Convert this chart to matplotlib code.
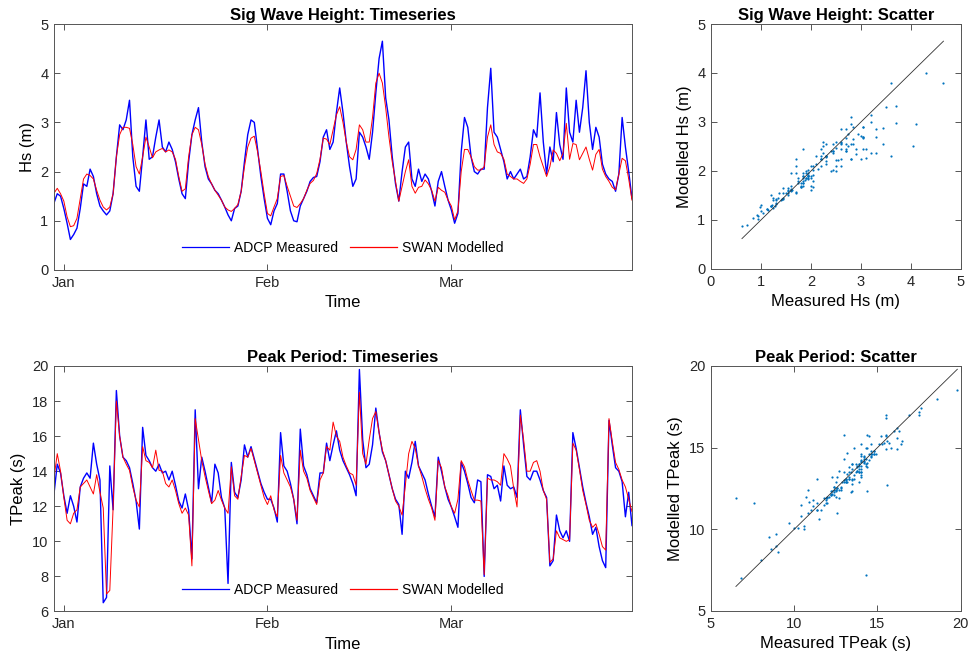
import numpy as np
import matplotlib.pyplot as plt

plt.rcParams['font.family'] = ['Liberation Sans', 'DejaVu Sans']

# 12-hourly samples, time in days from 1 Jan
t_start = -1.5
t_step = 0.5

# significant wave height (m)
hs_adcp = [1.36, 1.55, 1.50, 1.25, 0.95, 0.62, 0.72, 0.85, 1.25, 1.75,
           1.70, 2.05, 1.90, 1.55, 1.30, 1.20, 1.12, 1.20, 1.55, 2.30,
           2.95, 2.85, 3.05, 3.45, 2.30, 1.70, 1.60, 2.30, 3.05, 2.25,
           2.30, 2.70, 3.05, 2.50, 2.40, 2.60, 2.45, 2.20, 1.85, 1.55,
           1.45, 2.20, 2.75, 3.05, 3.30, 2.60, 2.10, 1.85, 1.75, 1.62,
           1.55, 1.42, 1.28, 1.12, 1.00, 1.25, 1.30, 1.60, 2.20, 2.75,
           3.05, 3.00, 2.45, 1.90, 1.45, 1.05, 0.92, 1.20, 1.35, 1.95,
           1.95, 1.60, 1.20, 1.00, 0.98, 1.30, 1.45, 1.60, 1.80, 1.88,
           1.90, 2.20, 2.70, 2.85, 2.45, 2.60, 3.20, 3.70, 3.20, 2.60,
           2.10, 1.70, 1.85, 2.80, 2.70, 2.50, 2.25, 2.80, 3.60, 4.30,
           4.65, 3.50, 3.05, 2.30, 1.75, 1.40, 2.00, 2.50, 2.60, 1.85,
           1.70, 2.05, 1.80, 1.95, 1.85, 1.60, 1.30, 1.80, 2.00, 1.70,
           1.42, 1.22, 0.95, 1.15, 2.40, 3.10, 2.90, 2.30, 2.00, 1.95,
           2.05, 2.05, 3.30, 4.10, 2.80, 2.70, 2.45, 2.20, 1.85, 2.00,
           1.85, 1.95, 2.05, 1.85, 1.90, 2.30, 2.85, 2.70, 3.60, 2.60,
           1.95, 2.50, 2.20, 3.20, 2.55, 2.25, 3.70, 2.80, 2.60, 3.45,
           2.80, 3.30, 4.05, 3.00, 2.45, 2.90, 2.70, 2.15, 1.95, 1.85,
           1.80, 1.60, 1.95, 3.10, 2.50, 2.00, 1.45]
hs_swan = [1.56, 1.66, 1.55, 1.40, 1.08, 0.88, 0.90, 1.05, 1.45, 1.85,
           1.95, 1.92, 1.85, 1.62, 1.42, 1.28, 1.22, 1.28, 1.55, 2.30,
           2.75, 2.90, 2.90, 2.88, 2.55, 2.10, 1.95, 2.30, 2.70, 2.50,
           2.28, 2.40, 2.44, 2.47, 2.40, 2.44, 2.40, 2.25, 1.90, 1.60,
           1.65, 2.30, 2.75, 2.90, 2.85, 2.55, 2.15, 1.90, 1.75, 1.62,
           1.52, 1.42, 1.28, 1.22, 1.19, 1.25, 1.33, 1.60, 2.10, 2.50,
           2.68, 2.72, 2.40, 2.00, 1.55, 1.15, 1.10, 1.28, 1.45, 1.90,
           1.92, 1.70, 1.50, 1.30, 1.27, 1.35, 1.45, 1.62, 1.76, 1.82,
           1.96, 2.25, 2.68, 2.66, 2.55, 2.85, 3.15, 3.32, 3.00, 2.60,
           2.30, 2.24, 2.45, 2.95, 2.85, 2.60, 2.60, 3.10, 3.80, 4.00,
           3.80, 3.30, 2.70, 2.20, 1.80, 1.40, 1.70, 2.00, 2.24, 1.70,
           1.56, 1.68, 1.70, 1.83, 1.75, 1.62, 1.40, 1.68, 1.62, 1.58,
           1.42, 1.30, 1.02, 1.20, 2.00, 2.45, 2.45, 2.30, 2.10, 2.03,
           2.03, 2.10, 2.70, 2.95, 2.55, 2.40, 2.37, 2.25, 1.95, 1.90,
           1.85, 1.85, 1.80, 1.76, 1.85, 2.15, 2.55, 2.55, 2.30, 2.10,
           1.90, 2.10, 2.44, 2.37, 2.22, 2.37, 2.98, 2.25, 2.57, 2.55,
           2.24, 2.37, 2.50, 2.25, 2.03, 2.35, 2.45, 2.05, 1.90, 1.80,
           1.68, 1.63, 1.95, 2.27, 2.22, 1.85, 1.42]

# peak period (s)
tp_adcp = [12.7, 14.4, 13.9, 12.6, 11.6, 12.6, 12.0, 11.1, 13.1, 13.6,
           13.9, 13.6, 15.6, 14.4, 13.5, 6.5, 6.8, 14.3, 11.8, 18.6,
           16.0, 14.8, 14.6, 14.2, 13.3, 12.3, 10.7, 16.5, 14.9, 14.6,
           14.2, 14.0, 14.4, 13.9, 14.0, 13.5, 14.0, 13.2, 12.3, 11.9,
           12.7, 11.8, 9.0, 17.5, 13.0, 14.8, 14.0, 13.1, 12.2, 14.4,
           13.9, 12.5, 11.9, 7.6, 14.5, 12.8, 12.5, 13.5, 15.5, 14.8,
           15.4, 14.7, 14.0, 13.3, 12.8, 12.4, 12.4, 11.9, 11.1, 16.2,
           14.3, 14.0, 13.3, 12.4, 11.0, 16.4, 14.3, 13.8, 13.0, 12.6,
           12.2, 13.9, 13.9, 15.6, 14.6, 15.5, 16.3, 15.2, 14.6, 14.2,
           13.8, 13.3, 12.6, 19.8, 15.8, 14.2, 14.4, 15.5, 17.6, 16.2,
           15.1, 14.6, 13.8, 13.0, 12.4, 12.1, 10.4, 14.0, 13.6, 14.5,
           15.7, 14.3, 13.9, 13.5, 12.7, 12.0, 11.4, 14.8, 14.0, 13.1,
           12.4, 11.96, 11.4, 10.8, 14.5, 14.0, 13.3, 12.5, 12.2, 13.5,
           13.4, 8.0, 13.8, 13.7, 13.0, 13.2, 12.3, 14.3, 13.2, 13.0,
           13.1, 12.5, 17.5, 15.5, 13.7, 13.5, 14.0, 14.0, 13.5, 12.9,
           12.5, 8.6, 8.9, 11.5, 10.6, 10.2, 10.6, 10.0, 16.2, 15.3,
           14.2, 13.1, 12.2, 11.4, 10.4, 10.8, 9.7, 8.9, 8.5, 16.9,
           15.5, 14.2, 14.0, 13.4, 11.4, 12.8, 10.9]
tp_swan = [13.6, 15.0, 14.0, 12.5, 11.2, 11.0, 11.6, 11.8, 13.1, 13.3,
           13.5, 13.1, 12.7, 13.8, 12.8, 11.9, 7.0, 7.2, 11.9, 18.0,
           16.0, 14.8, 14.4, 14.05, 13.1, 12.35, 11.96, 15.4, 14.6, 14.5,
           14.2, 15.2, 14.05, 14.0, 13.3, 13.1, 13.5, 12.9, 12.15, 11.6,
           11.9, 11.5, 8.6, 17.0, 15.8, 14.6, 13.7, 12.9, 12.15, 12.35,
           12.9, 12.35, 11.9, 11.6, 14.25, 12.6, 12.4, 13.7, 14.9, 14.8,
           15.3, 14.6, 13.9, 13.2, 12.5, 12.1, 12.6, 11.8, 11.4, 14.9,
           13.9, 13.5, 13.1, 12.4, 11.2, 15.2, 14.0, 13.6, 12.9, 12.5,
           12.1, 13.5, 13.9, 15.4, 15.2, 16.8, 16.0, 15.7, 14.8, 14.3,
           13.9, 13.8, 13.2, 18.5, 15.0, 14.4, 15.8, 17.0, 17.4, 16.2,
           15.2, 14.6, 13.8, 13.0, 12.3, 12.0, 11.5, 13.2, 15.0, 15.7,
           15.3, 14.3, 13.7, 13.0, 12.4, 11.9, 11.2, 14.6, 14.2, 13.1,
           12.6, 11.96, 11.6, 12.4, 14.6, 14.25, 13.5, 12.9, 12.35, 12.35,
           12.3, 8.1, 13.6, 13.5, 13.5, 13.4, 13.2, 15.0, 14.7, 14.3,
           13.0, 11.96, 17.2, 15.8, 14.0, 14.0, 14.5, 14.6, 14.0, 12.9,
           12.4, 8.8, 9.0, 10.6, 10.2, 10.1, 10.0, 10.1, 15.6, 15.2,
           14.1, 12.9, 12.1, 11.2, 10.8, 11.0, 10.4, 9.7, 9.5, 17.0,
           15.7, 14.5, 14.1, 13.5, 13.1, 12.4, 11.7]

month_ticks = [0, 31, 59]
month_labels = ['Jan', 'Feb', 'Mar']

t = t_start + t_step * np.arange(len(hs_adcp))


def style(ax):
    ax.tick_params(direction='in', top=True, right=True, length=4, width=0.6,
                   labelsize=10.5, colors='#3a3a3a', labelcolor='#262626',
                   pad=4)
    for s in ax.spines.values():
        s.set_color('#555555')
        s.set_linewidth(0.7)


def timeseries(ax, meas, mod, title, ylabel, ylim, yticks):
    ax.plot(t, meas, color='b', lw=1.0, label='ADCP Measured')
    ax.plot(t, mod, color='r', lw=0.7, label='SWAN Modelled')
    ax.set_xlim(t[0], t[-1])
    ax.set_ylim(ylim)
    ax.set_yticks(yticks)
    ax.set_xticks(month_ticks)
    ax.set_xticklabels(month_labels)
    ax.set_title(title, fontsize=12, fontweight='bold', pad=3)
    ax.set_xlabel('Time', fontsize=12, labelpad=4)
    ax.set_ylabel(ylabel, fontsize=12, labelpad=4)
    leg = ax.legend(loc='lower center', ncol=2, frameon=False, fontsize=10,
                    handlelength=3.4, handletextpad=0.35, columnspacing=0.85,
                    bbox_to_anchor=(0.5, 0.01))
    for line in leg.get_lines():
        line.set_linewidth(0.9)
    style(ax)


def scatter(ax, meas, mod, title, xlabel, ylabel, lim, ticks):
    ax.scatter(meas, mod, s=2.5, color='#0072BD', linewidths=0)
    lo, hi = min(meas), max(meas)
    ax.plot([lo, hi], [lo, hi], color='#303030', lw=0.6)
    ax.set_xlim(lim)
    ax.set_ylim(lim)
    ax.set_xticks(ticks)
    ax.set_yticks(ticks)
    ax.set_title(title, fontsize=12, fontweight='bold', pad=3)
    ax.set_xlabel(xlabel, fontsize=12, labelpad=4)
    ax.set_ylabel(ylabel, fontsize=12, labelpad=4)
    style(ax)


fig = plt.figure(figsize=(9.69, 6.63), dpi=100)
ax1 = fig.add_axes([0.0557, 0.5928, 0.5965, 0.371])
ax2 = fig.add_axes([0.7337, 0.5943, 0.258, 0.3695])
ax3 = fig.add_axes([0.0557, 0.0777, 0.5965, 0.3703])
ax4 = fig.add_axes([0.7337, 0.0785, 0.2577, 0.3695])

timeseries(ax1, hs_adcp, hs_swan, 'Sig Wave Height: Timeseries', 'Hs (m)',
           (0, 5), range(0, 6))
scatter(ax2, hs_adcp, hs_swan, 'Sig Wave Height: Scatter', 'Measured Hs (m)',
        'Modelled Hs (m)', (0, 5), range(0, 6))
timeseries(ax3, tp_adcp, tp_swan, 'Peak Period: Timeseries', 'TPeak (s)',
           (6, 20), range(6, 21, 2))
scatter(ax4, tp_adcp, tp_swan, 'Peak Period: Scatter', 'Measured TPeak (s)',
        'Modelled TPeak (s)', (5, 20), range(5, 21, 5))

fig.savefig('out.png', dpi=100)
